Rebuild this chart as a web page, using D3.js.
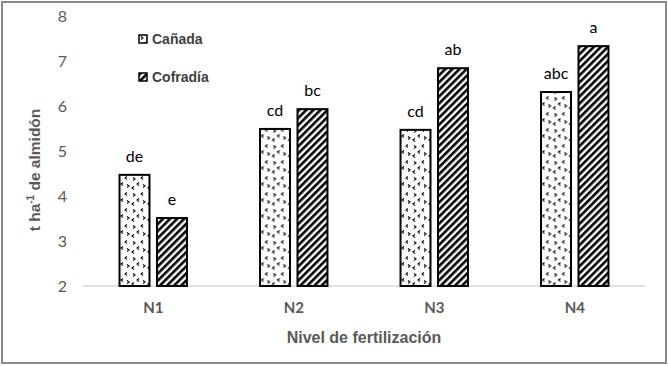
<!DOCTYPE html>
<html>
<head>
<meta charset="utf-8">
<script src="https://cdn.jsdelivr.net/npm/d3@7"></script>
<style>
  body { margin: 0; background: #fff; }
  svg { display: block; }
</style>
</head>
<body>
<svg id="chart" width="668" height="366"></svg>
<script>
// data
var niveles = ["N1", "N2", "N3", "N4"];
var series = ["Cañada", "Cofradía"];
var canada = [4.47, 5.49, 5.47, 6.31];
var cofradia = [3.51, 5.93, 6.84, 7.33];
var letrasCanada = ["de", "cd", "cd", "abc"];
var letrasCofradia = ["e", "bc", "ab", "a"];
var yTicks = [2, 3, 4, 5, 6, 7, 8];

var svg = d3.select("#chart");
var W = 668, H = 366;
var margin = { left: 83, right: 23, top: 16, bottom: 80 };

// outer frame
svg.append("rect")
  .attr("x", 2).attr("y", 2)
  .attr("width", W - 4).attr("height", H - 5)
  .attr("fill", "#fff")
  .attr("stroke", "#8a8a8a")
  .attr("stroke-width", 2);

//
// patterns
//
var defs = svg.append("defs");

// confetti of little < and > marks
var conf = defs.append("pattern")
  .attr("id", "pat-canada")
  .attr("patternUnits", "userSpaceOnUse")
  .attr("width", 16).attr("height", 16);
conf.append("rect").attr("width", 16).attr("height", 16).attr("fill", "#fff");
var marks = [
  { x: 3, y: 3, d: ">" }, { x: 11, y: 2, d: "<" },
  { x: 7, y: 8, d: "<" }, { x: 13, y: 10, d: ">" },
  { x: 2, y: 12, d: "<" }
];
marks.forEach(function (m) {
  var p = (m.d === ">")
    ? "M" + (m.x - 1) + "," + (m.y - 1.5) + "L" + (m.x + 1) + "," + m.y + "L" + (m.x - 1) + "," + (m.y + 1.5)
    : "M" + (m.x + 1) + "," + (m.y - 1.5) + "L" + (m.x - 1) + "," + m.y + "L" + (m.x + 1) + "," + (m.y + 1.5);
  conf.append("path").attr("d", p)
    .attr("fill", "none").attr("stroke", "#000").attr("stroke-width", 1.1);
});

// wide upward diagonal stripes
var stripes = defs.append("pattern")
  .attr("id", "pat-cofradia")
  .attr("patternUnits", "userSpaceOnUse")
  .attr("width", 5).attr("height", 5)
  .attr("patternTransform", "rotate(45)");
stripes.append("rect").attr("width", 5).attr("height", 5).attr("fill", "#fff");
stripes.append("rect").attr("width", 2.6).attr("height", 5).attr("fill", "#000");

var fills = ["url(#pat-canada)", "url(#pat-cofradia)"];

//
// scales
//
var x0 = d3.scaleBand()
  .domain(niveles)
  .range([margin.left, W - margin.right]);

var x1 = d3.scaleBand()
  .domain(series)
  .range([x0.bandwidth() * 0.26, x0.bandwidth() * 0.74])
  .paddingInner(0.2);

var y = d3.scaleLinear()
  .domain([2, 8])
  .range([H - margin.bottom, margin.top]);

// baseline
svg.append("line")
  .attr("x1", margin.left).attr("x2", W - margin.right)
  .attr("y1", y(2)).attr("y2", y(2))
  .attr("stroke", "#d9d9d9").attr("stroke-width", 1.5);

// y axis labels
var yAxis = d3.axisLeft(y).tickValues(yTicks).tickFormat(d3.format("d"))
  .tickSize(0).tickPadding(16);
var gy = svg.append("g")
  .attr("transform", "translate(" + margin.left + ",0)")
  .call(yAxis);
gy.select(".domain").remove();
gy.selectAll("text")
  .attr("font-family", "Lato, 'Open Sans', sans-serif")
  .attr("font-size", 16)
  .attr("fill", "#595959");

// x axis labels
var xAxis = d3.axisBottom(x0).tickSize(0).tickPadding(16);
var gx = svg.append("g")
  .attr("transform", "translate(0," + y(2) + ")")
  .call(xAxis);
gx.select(".domain").remove();
gx.selectAll("text")
  .attr("font-family", "Lato, 'Open Sans', sans-serif")
  .attr("font-weight", "bold")
  .attr("font-size", 15)
  .attr("fill", "#595959");

//
// bars
//
var rows = niveles.map(function (n, i) {
  return [
    { nivel: n, serie: series[0], v: canada[i], letra: letrasCanada[i], k: 0 },
    { nivel: n, serie: series[1], v: cofradia[i], letra: letrasCofradia[i], k: 1 }
  ];
});

var groups = svg.selectAll(".grupo")
  .data(rows)
  .enter().append("g")
  .attr("class", "grupo")
  .attr("transform", function (d) { return "translate(" + x0(d[0].nivel) + ",0)"; });

groups.selectAll("rect")
  .data(function (d) { return d; })
  .enter().append("rect")
  .attr("x", function (d) { return x1(d.serie); })
  .attr("y", function (d) { return y(d.v); })
  .attr("width", x1.bandwidth())
  .attr("height", function (d) { return y(2) - y(d.v); })
  .attr("fill", function (d) { return fills[d.k]; })
  .attr("stroke", "#000")
  .attr("stroke-width", 2);

groups.selectAll("text.letra")
  .data(function (d) { return d; })
  .enter().append("text")
  .attr("class", "letra")
  .attr("x", function (d) { return x1(d.serie) + x1.bandwidth() / 2; })
  .attr("y", function (d) { return y(d.v) - 13; })
  .attr("text-anchor", "middle")
  .attr("font-family", "Lato, 'Open Sans', sans-serif")
  .attr("font-size", 16)
  .attr("fill", "#000")
  .text(function (d) { return d.letra; });

//
// titles
//
svg.append("text")
  .attr("transform", "translate(40,170) rotate(-90)")
  .attr("text-anchor", "middle")
  .attr("font-family", "'Liberation Sans', Arial, sans-serif")
  .attr("font-weight", "bold")
  .attr("font-size", 15.5)
  .attr("fill", "#595959")
  .call(function (t) {
    t.append("tspan").text("t ha");
    t.append("tspan").attr("dy", -6).attr("font-size", 10).text("-1");
    t.append("tspan").attr("dy", 6).text(" de almidón");
  });

svg.append("text")
  .attr("x", 364).attr("y", 343)
  .attr("text-anchor", "middle")
  .attr("font-family", "'Liberation Sans', Arial, sans-serif")
  .attr("font-weight", "bold")
  .attr("font-size", 16)
  .attr("fill", "#595959")
  .text("Nivel de fertilización");

//
// legend
//
var legend = svg.selectAll(".leyenda")
  .data(series)
  .enter().append("g")
  .attr("class", "leyenda")
  .attr("transform", function (d, i) { return "translate(139," + (35 + i * 38) + ")"; });

legend.append("rect")
  .attr("width", 8).attr("height", 8)
  .attr("fill", function (d, i) { return fills[i]; })
  .attr("stroke", "#000").attr("stroke-width", 1.5);

legend.append("text")
  .attr("x", 13).attr("y", 9)
  .attr("font-family", "'Liberation Sans', Arial, sans-serif")
  .attr("font-weight", "bold")
  .attr("font-size", 14)
  .attr("fill", "#404040")
  .text(function (d) { return d; });
</script>
</body>
</html>
